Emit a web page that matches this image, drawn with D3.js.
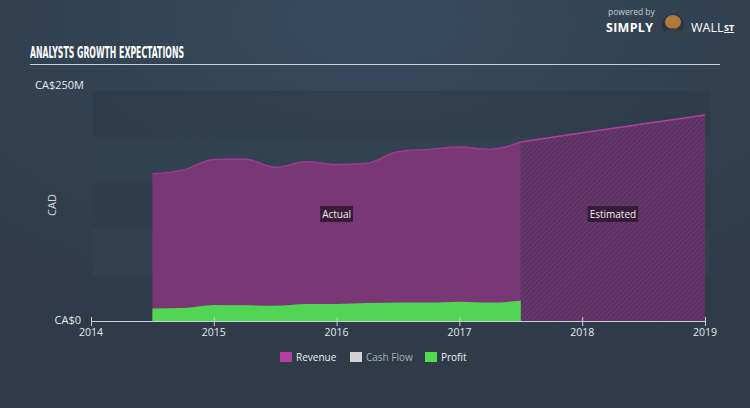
<!DOCTYPE html>
<html>
<head>
<meta charset="utf-8">
<script src="https://cdn.jsdelivr.net/npm/d3@7"></script>
<style>
  html, body { margin: 0; padding: 0; background: #313e4c; }
  svg { display: block; }
</style>
</head>
<body>
<div id="chart"></div>
<script>
// quarters (decimal years) for reported figures
const actualDates = [2014.5, 2014.75, 2015, 2015.25, 2015.5, 2015.75, 2016, 2016.25, 2016.5, 2016.75, 2017, 2017.25, 2017.5];
const revenueActual = [160, 164, 175.5, 176, 167, 173, 170, 171.5, 184, 186.5, 189, 186.5, 194.5];
const profitActual = [13.5, 14, 17.5, 17, 16.5, 18.5, 18.5, 19.5, 20, 20, 21, 20, 22];
// analyst estimates
const estimateDates = [2017.5, 2018, 2019];
const revenueEstimate = [194.5, 204.5, 224];
const yearTicks = [2014, 2015, 2016, 2017, 2018, 2019];
const yTickLabels = ["CA$0", "CA$250M"];
const legendItems = ["Revenue", "Cash Flow", "Profit"];

const width = 750, height = 408;
const svg = d3.select("#chart").append("svg").attr("width", width).attr("height", height);
const defs = svg.append("defs");

// background gradient
const bg = defs.append("radialGradient").attr("id", "bg")
  .attr("cx", "50%").attr("cy", "5%").attr("r", "75%");
bg.append("stop").attr("offset", "0%").attr("stop-color", "#374a5e");
bg.append("stop").attr("offset", "100%").attr("stop-color", "#2f3b48");
svg.append("rect").attr("width", width).attr("height", height).attr("fill", "url(#bg)");

// hatch pattern for estimates
const hatch = defs.append("pattern").attr("id", "hatch")
  .attr("width", 3.5).attr("height", 3.5).attr("patternUnits", "userSpaceOnUse")
  .attr("patternTransform", "rotate(45)");
hatch.append("rect").attr("width", 3.5).attr("height", 3.5).attr("fill", "#5b3262");
hatch.append("line").attr("x1", 0).attr("y1", 0).attr("x2", 0).attr("y2", 3.5)
  .attr("stroke", "#763d78").attr("stroke-width", 1.4);

const x = d3.scaleLinear().domain([2014, 2019]).range([91, 705]);
const y = d3.scaleLinear().domain([0, 250]).range([321, 91]);

// title
svg.append("text")
  .attr("x", 30).attr("y", 58)
  .attr("font-family", "'Liberation Sans Narrow', 'DejaVu Sans Condensed', sans-serif")
  .attr("font-weight", "bold")
  .attr("font-size", "15px")
  .attr("fill", "#ffffff")
  .attr("textLength", 154)
  .attr("lengthAdjust", "spacingAndGlyphs")
  .text("ANALYSTS GROWTH EXPECTATIONS");
svg.append("line").attr("x1", 30).attr("x2", 720).attr("y1", 64.5).attr("y2", 64.5)
  .attr("stroke", "#c9d3dc").attr("stroke-width", 1);

// logo
const logo = svg.append("g").attr("font-family", "'Open Sans', sans-serif");
logo.append("text").attr("x", 608).attr("y", 15).attr("font-size", "8.5px").attr("fill", "#c8ccd2").text("powered by");
logo.append("text").attr("x", 606).attr("y", 32).attr("font-size", "12.5px").attr("font-weight", "bold")
  .attr("fill", "#ffffff").attr("letter-spacing", "0.3").text("SIMPLY");
logo.append("circle").attr("cx", 673).attr("cy", 25).attr("r", 11).attr("fill", "#2b3440");
logo.append("ellipse").attr("cx", 673).attr("cy", 22).attr("rx", 8).attr("ry", 7).attr("fill", "#b0793a");
logo.append("path").attr("d", "M665,31 L673,28 L681,31 L681,36 L665,36 Z").attr("fill", "#3b3f48");
logo.append("text").attr("x", 691).attr("y", 32).attr("font-size", "12.5px").attr("fill", "#ffffff").text("WALL");
logo.append("text").attr("x", 724).attr("y", 31).attr("font-size", "9px").attr("font-weight", "bold")
  .attr("fill", "#ffffff").attr("text-decoration", "underline").text("ST");

// plot bands
const bandVals = d3.range(0, 250, 50);
svg.append("g").selectAll("rect").data(bandVals).enter().append("rect")
  .attr("x", 93).attr("width", 617)
  .attr("y", (d) => y(d + 50)).attr("height", (d) => y(d) - y(d + 50))
  .attr("fill", (d, i) => (i % 2 === 0 ? "#2f3c49" : "#334250"))
  .attr("opacity", 0.75);

const font = "'Open Sans', sans-serif";

// y labels
svg.append("text").attr("x", 81).attr("y", 324).attr("text-anchor", "end")
  .attr("font-family", font).attr("font-size", "11px").attr("fill", "#e6e9ec").text(yTickLabels[0]);
svg.append("text").attr("x", 35).attr("y", 89)
  .attr("font-family", font).attr("font-size", "11px").attr("fill", "#e6e9ec").text(yTickLabels[1]);
svg.append("text").attr("transform", "translate(56,205) rotate(-90)").attr("text-anchor", "middle")
  .attr("font-family", font).attr("font-size", "11px").attr("fill", "#d5d9de").text("CAD");

// areas
const actualRev = actualDates.map((d, i) => ({ t: d, v: revenueActual[i] }));
const actualProfit = actualDates.map((d, i) => ({ t: d, v: profitActual[i] }));
const estRev = estimateDates.map((d, i) => ({ t: d, v: revenueEstimate[i] }));

const area = d3.area().x((d) => x(d.t)).y0(y(0)).y1((d) => y(d.v)).curve(d3.curveMonotoneX);
const line = d3.line().x((d) => x(d.t)).y((d) => y(d.v)).curve(d3.curveMonotoneX);

svg.append("path").datum(actualRev).attr("d", area).attr("fill", "#793776");
svg.append("path").datum(estRev).attr("d", area).attr("fill", "url(#hatch)");
svg.append("path").datum(actualRev).attr("d", line).attr("fill", "none")
  .attr("stroke", "#9c3b95").attr("stroke-width", 1.5);
svg.append("path").datum(estRev).attr("d", line).attr("fill", "none")
  .attr("stroke", "#b0409f").attr("stroke-width", 1.5);
svg.append("path").datum(actualProfit).attr("d", area).attr("fill", "#50d653");

// Actual / Estimated labels
function boxLabel(cx, cy, txt) {
  const g = svg.append("g");
  const t = g.append("text").attr("x", cx).attr("y", cy + 3.5).attr("text-anchor", "middle")
    .attr("font-family", font).attr("font-size", "10px").attr("fill", "#f2eef2").text(txt);
  const bb = t.node().getBBox();
  g.insert("rect", "text").attr("x", bb.x - 2).attr("y", cy - 8).attr("width", bb.width + 4).attr("height", 16)
    .attr("fill", "#2f1730").attr("opacity", 0.85);
}
boxLabel(x(2016), 214, "Actual");
boxLabel(x(2018.25), 214, "Estimated");

// x axis
const axis = svg.append("g");
axis.append("line").attr("x1", x(2014)).attr("x2", x(2019)).attr("y1", 321.5).attr("y2", 321.5)
  .attr("stroke", "#c7cfd8").attr("stroke-width", 1);
axis.selectAll(".tick").data(yearTicks).enter().append("line")
  .attr("x1", (d) => x(d) + 0.5).attr("x2", (d) => x(d) + 0.5)
  .attr("y1", 317).attr("y2", 326)
  .attr("stroke", "#c7cfd8").attr("stroke-width", 1);
axis.selectAll(".lbl").data(yearTicks).enter().append("text")
  .attr("x", (d) => x(d)).attr("y", 336).attr("text-anchor", "middle")
  .attr("font-family", font).attr("font-size", "10.5px").attr("fill", "#e6e9ec")
  .text((d) => d);

// legend
const legendColors = ["#b33fa3", "#d3d3d3", "#4fdd4f"];
const legendX = [280, 350, 425];
const lg = svg.append("g").selectAll("g").data(legendItems).enter().append("g")
  .attr("transform", (d, i) => `translate(${legendX[i]},352)`);
lg.append("rect").attr("width", 12).attr("height", 10).attr("fill", (d, i) => legendColors[i]);
lg.append("text").attr("x", 16).attr("y", 9).attr("font-family", font).attr("font-size", "10px")
  .attr("fill", (d, i) => (i === 1 ? "#a9b0b8" : "#f0f0f0")).text((d) => d);
</script>
</body>
</html>
